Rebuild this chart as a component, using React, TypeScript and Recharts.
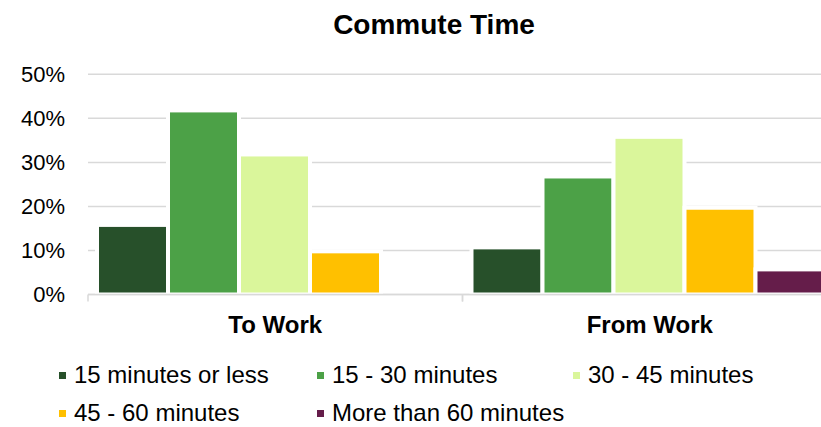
import { Bar, BarChart, CartesianGrid, XAxis, YAxis } from 'recharts';

const categories = ['To Work', 'From Work'];
const seriesNames = ['15 minutes or less', '15 - 30 minutes', '30 - 45 minutes', '45 - 60 minutes', 'More than 60 minutes'];
const seriesColors = ['#27502a', '#4ca147', '#daf69b', '#ffc000', '#651d4a'];

// share of trips (%) per category, in the order of `categories`
const under15 = [15.8, 10.7];
const from15to30 = [41.8, 26.8];
const from30to45 = [31.8, 35.8];
const from45to60 = [9.8, 19.7];
const over60 = [0, 5.7];
const seriesValues = [under15, from15to30, from30to45, from45to60, over60];

const yTicks = [0, 10, 20, 30, 40, 50];

const data = categories.map((name, i) => {
  const row: Record<string, string | number> = { name };
  seriesValues.forEach((vals, s) => {
    row[`s${s}`] = vals[i];
  });
  return row;
});

const FONT = '"Liberation Sans", Arial, sans-serif';
const CHART_W = 860;
const CHART_H = 427;
const LEFT = 88;
const RIGHT = 23;
const HALF_BAND = (CHART_W - LEFT - RIGHT) / categories.length / 2;

// bar with a white outline, like the spreadsheet border
const OutlinedBar = (props: any) => {
  const { x, y, width, height, fill } = props;
  if (!height || height <= 0) return <g />;
  const b = 2;
  return (
    <g>
      <rect x={x - b} y={y - b} width={width + 2 * b} height={height + b} fill="#fff" />
      <rect x={x + b} y={y + b} width={width - 2 * b} height={height - 2 * b} fill={fill} />
    </g>
  );
};

const CategoryTick = (props: any) => {
  const { x, y, payload } = props;
  const axisY = y - 8;
  return (
    <g>
      <line x1={x - HALF_BAND} x2={x - HALF_BAND} y1={axisY} y2={axisY + 7} stroke="#d9d9d9" strokeWidth={1.5} />
      <line x1={x + HALF_BAND} x2={x + HALF_BAND} y1={axisY} y2={axisY + 7} stroke="#d9d9d9" strokeWidth={1.5} />
      <text x={x} y={axisY + 38} textAnchor="middle" fontFamily={FONT} fontSize={24} fontWeight="bold" fill="#000">
        {payload.value}
      </text>
    </g>
  );
};

const legendCols = [59, 317, 573];
const legendRows = [375, 413];

export default function App() {
  return (
    <div style={{ position: 'fixed', left: 0, top: 0, width: 821, height: 427, overflow: 'hidden', background: '#fff' }}>
      <div
        style={{
          position: 'absolute',
          left: 0,
          width: 868,
          top: 9,
          textAlign: 'center',
          fontFamily: FONT,
          fontWeight: 'bold',
          fontSize: 28,
          color: '#000',
        }}
      >
        Commute Time
      </div>
      <div style={{ position: 'absolute', left: 0, top: 0 }}>
        <BarChart
          width={CHART_W}
          height={CHART_H}
          data={data}
          margin={{ top: 74.3, right: RIGHT, bottom: 102.5, left: 0 }}
          barCategoryGap={9}
          barGap={0}
        >
          <CartesianGrid vertical={false} stroke="#d9d9d9" strokeWidth={1.5} />
          <YAxis
            width={LEFT}
            domain={[0, 50]}
            ticks={yTicks}
            interval={0}
            axisLine={false}
            tickLine={false}
            tickSize={0}
            tickMargin={23}
            tickFormatter={(v: number) => `${v}%`}
            tick={{ fontFamily: FONT, fontSize: 22, fill: '#000' }}
          />
          <XAxis
            dataKey="name"
            height={30}
            axisLine={{ stroke: '#d9d9d9', strokeWidth: 1.5 }}
            tickLine={false}
            tick={<CategoryTick />}
            interval={0}
          />
          {seriesNames.map((name, s) => (
            <Bar
              key={name}
              dataKey={`s${s}`}
              name={name}
              fill={seriesColors[s]}
              shape={<OutlinedBar />}
              isAnimationActive={false}
            />
          ))}
        </BarChart>
      </div>
      {seriesNames.map((name, s) => (
        <div
          key={name}
          style={{
            position: 'absolute',
            left: legendCols[s % 3],
            top: legendRows[Math.floor(s / 3)] - 10,
            height: 20,
            display: 'flex',
            alignItems: 'center',
            fontFamily: FONT,
            fontSize: 24,
            lineHeight: '20px',
            color: '#000',
            whiteSpace: 'nowrap',
          }}
        >
          <span style={{ display: 'inline-block', width: 7, height: 7, background: seriesColors[s], marginRight: 8 }} />
          {name}
        </div>
      ))}
    </div>
  );
}
